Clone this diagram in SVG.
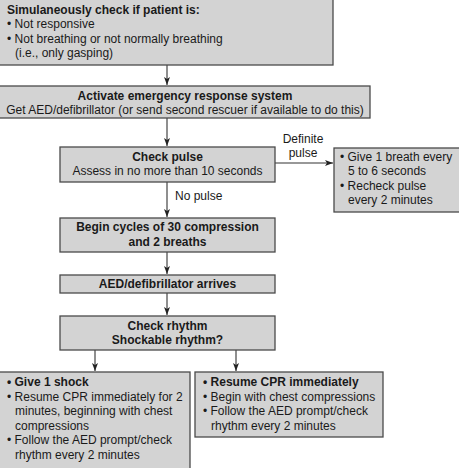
<svg xmlns="http://www.w3.org/2000/svg" width="459" height="468" viewBox="0 0 459 468">
<defs>
<style>
.box{fill:#d3d3d3;stroke:#4a4a4a;stroke-width:1.3}
text{font-family:"Liberation Sans",Arial,sans-serif;font-size:12px;fill:#1a1a1a}
.b{font-weight:bold}
.c{text-anchor:middle}
.ln{stroke:#333;stroke-width:1.1;fill:none}
</style>
<marker id="ah" markerUnits="userSpaceOnUse" markerWidth="9" markerHeight="7" refX="8" refY="3" orient="auto">
<path d="M0,0 L8,3 L0,6 L2,3 z" fill="#222"/>
</marker>
</defs>
<rect width="459" height="468" fill="#fff"/>
<g id="connectors">
<line class="ln" x1="167" y1="65" x2="167" y2="85" marker-end="url(#ah)"/>
<line class="ln" x1="167" y1="118" x2="167" y2="146" marker-end="url(#ah)"/>
<line class="ln" x1="167" y1="182" x2="167" y2="217" marker-end="url(#ah)"/>
<text x="175" y="200">No pulse</text>
<line class="ln" x1="275" y1="163" x2="333" y2="163" marker-end="url(#ah)"/>
<text class="c" x="303" y="143">Definite</text>
<text class="c" x="303" y="157">pulse</text>
<line class="ln" x1="167" y1="252" x2="167" y2="274" marker-end="url(#ah)"/>
<line class="ln" x1="167" y1="293" x2="167" y2="315" marker-end="url(#ah)"/>
<line class="ln" x1="95" y1="350" x2="95" y2="371" marker-end="url(#ah)"/>
<line class="ln" x1="236" y1="350" x2="236" y2="371" marker-end="url(#ah)"/>
</g>
<g id="check">
<rect class="box" x="-1" y="-1" width="334" height="66"/>
<text class="b" x="7" y="13.5">Simulaneously check if patient is:</text>
<text x="7" y="28">• Not responsive</text>
<text x="7" y="42.5">• Not breathing or not normally breathing</text>
<text x="15" y="57">(i.e., only gasping)</text>
</g>
<g id="activate">
<rect class="box" x="-1" y="86" width="371" height="32"/>
<text class="b c" x="185" y="100">Activate emergency response system</text>
<text class="c" x="185" y="114">Get AED/defibrillator (or send second rescuer if available to do this)</text>
</g>
<g id="pulse">
<rect class="box" x="60" y="147" width="215" height="35"/>
<text class="b c" x="167.5" y="161">Check pulse</text>
<text class="c" x="167.5" y="175">Assess in no more than 10 seconds</text>
</g>
<g id="breath">
<rect class="box" x="334" y="148" width="126" height="64"/>
<text x="340" y="161">• Give 1 breath every</text>
<text x="348" y="175">5 to 6 seconds</text>
<text x="340" y="190">• Recheck pulse</text>
<text x="348" y="204">every 2 minutes</text>
</g>
<g id="cycles">
<rect class="box" x="60" y="218" width="215" height="34"/>
<text class="b c" x="167.5" y="231">Begin cycles of 30 compression</text>
<text class="b c" x="167.5" y="246">and 2 breaths</text>
</g>
<g id="aed">
<rect class="box" x="60" y="275" width="215" height="18"/>
<text class="b c" x="167.5" y="288">AED/defibrillator arrives</text>
</g>
<g id="rhythm">
<rect class="box" x="60" y="316" width="215" height="34"/>
<text class="b c" x="167.5" y="330">Check rhythm</text>
<text class="b c" x="167.5" y="344">Shockable rhythm?</text>
</g>
<g id="shock">
<rect class="box" x="-1" y="372" width="191" height="100"/>
<text class="b" x="7" y="386">• Give 1 shock</text>
<text x="7" y="400.5">• Resume CPR immediately for 2</text>
<text x="15" y="415">minutes, beginning with chest</text>
<text x="15" y="429.5">compressions</text>
<text x="7" y="444">• Follow the AED prompt/check</text>
<text x="15" y="458.5">rhythm every 2 minutes</text>
</g>
<g id="resume">
<rect class="box" x="195" y="372" width="188" height="65"/>
<text class="b" x="203" y="386">• Resume CPR immediately</text>
<text x="203" y="400.5">• Begin with chest compressions</text>
<text x="203" y="415">• Follow the AED prompt/check</text>
<text x="211" y="429.5">rhythm every 2 minutes</text>
</g>
</svg>
